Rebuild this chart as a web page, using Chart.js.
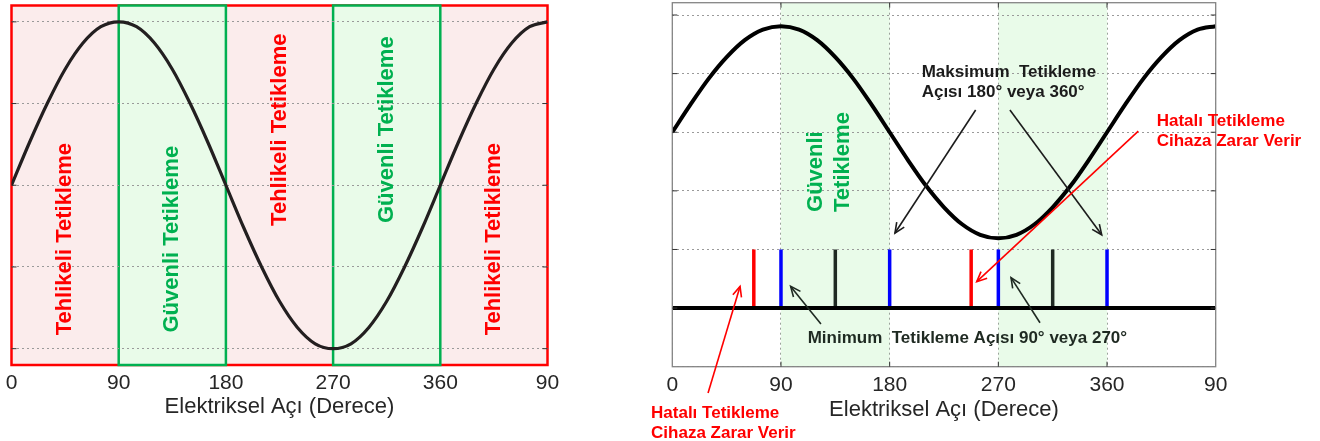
<!DOCTYPE html>
<html><head><meta charset="utf-8">
<script src="https://cdn.jsdelivr.net/npm/chart.js@4.4.1/dist/chart.umd.min.js"></script>
<style>
html,body{margin:0;padding:0;background:#fff;width:1320px;height:441px;overflow:hidden}
#wl{position:absolute;left:0;top:0;width:600px;height:441px}
#wr{position:absolute;left:620px;top:0;width:700px;height:441px}
</style></head><body>
<div id="wl"><canvas id="cl" width="600" height="441"></canvas></div>
<div id="wr"><canvas id="cr" width="700" height="441"></canvas></div>
<script>
// ---------------- data ----------------
const angleTicks = [0, 90, 180, 270, 360, 450];
const angleTickLabels = ['0', '90', '180', '270', '360', '90'];
const xTitle = 'Elektriksel Açı (Derece)';

const curveAngles = [0,15,30,45,60,75,90,105,120,135,150,165,180,195,210,225,240,255,270,285,300,315,330,345,360,375,390,405,420,435,450];
const leftWave = [0,0.26,0.5,0.71,0.87,0.97,1,0.97,0.87,0.71,0.5,0.26,0,-0.26,-0.5,-0.71,-0.87,-0.97,-1,-0.97,-0.87,-0.71,-0.5,-0.26,0,0.26,0.5,0.71,0.87,0.97,1];
const rightWave = [4,4.47,4.91,5.28,5.57,5.75,5.81,5.75,5.57,5.28,4.91,4.47,4,3.53,3.09,2.72,2.43,2.25,2.19,2.25,2.43,2.72,3.09,3.53,4,4.47,4.91,5.28,5.57,5.75,5.81];

const leftYTicks = [-1, -0.5, 0, 0.5, 1];
const rightYTicks = [0, 1, 2, 3, 4, 5, 6];

const zoneStarts = [0, 90, 180, 270, 360];
const zoneEnds   = [90, 180, 270, 360, 450];
const zoneKinds  = ['danger', 'safe', 'danger', 'safe', 'danger'];
const zoneLabels = ['Tehlikeli Tetikleme', 'Güvenli Tetikleme', 'Tehlikeli Tetikleme', 'Güvenli Tetikleme', 'Tehlikeli Tetikleme'];

const safeBandStarts = [90, 270];
const safeBandEnds   = [180, 360];
const safeBandLabel  = ['Güvenli', 'Tetikleme'];

const triggerAngles = [67.5, 90, 135, 180, 247.5, 270, 315, 360];
const triggerKinds  = ['faulty', 'limit', 'normal', 'limit', 'faulty', 'limit', 'normal', 'limit'];
const pulseLow = 1, pulseHigh = 2;

// ---------------- styles / layout ----------------
const FONT = '"Liberation Sans", Arial, Helvetica, sans-serif';
Chart.defaults.font.family = FONT;
const RED = '#ff0000', GREEN = '#00b050', PINK = '#fbecec', LGREEN = '#e9fbe9';
const DARK = '#1c1c1c', DARK2 = '#1f2a22';
const kindColor = {faulty: '#ff0000', limit: '#0000ff', normal: '#1f2a22'};
const zoneLabelY = [-0.33, -0.33, 0.34, 0.34, -0.33];

const rightNotes = [
  {lines: ['Maksimum  Tetikleme', 'Açısı 180° veya 360°'], x: 206.5, y: 5.02, color: DARK},
  {lines: ['Hatalı Tetikleme', 'Cihaza Zarar Verir'], x: 401.1, y: 4.19, color: RED},
  {lines: ['Minimum  Tetikleme Açısı 90° veya 270°'], x: 112.1, y: 0.48, color: DARK2},
  {lines: ['Hatalı Tetikleme', 'Cihaza Zarar Verir'], x: -17.6, y: -0.79, color: RED}
];
const rightArrows = [
  {from: [251.2, 4.38], to: [184.4, 2.28], color: DARK},
  {from: [279.6, 4.38], to: [355.6, 2.25], color: DARK},
  {from: [385.9, 4.02], to: [252.1, 1.45], color: RED},
  {from: [29.6, -0.45], to: [56.1, 1.37], color: RED},
  {from: [123.1, 0.73], to: [98.0, 1.37], color: DARK2},
  {from: [304.5, 0.75], to: [280.5, 1.52], color: DARK2}
];
const bandLabelPos = {x: [119, 141.3], y: 2.64};

function setTicks(list) { return s => { s.ticks = list.map(v => ({value: v})); }; }

function xScale(tickPad, titlePad, height, showGrid) {
  return {
    type: 'linear', min: angleTicks[0], max: angleTicks[angleTicks.length - 1],
    afterBuildTicks: setTicks(angleTicks),
    ticks: {callback: (v, i) => angleTickLabels[i], font: {size: 21}, color: '#262626', padding: tickPad, maxRotation: 0, autoSkip: false},
    grid: {display: showGrid, drawTicks: false, color: '#9aa39a', lineWidth: 1},
    border: {display: false, dash: [2, 3]},
    title: {display: true, text: xTitle, font: {size: 22}, color: '#262626', padding: {top: 0, bottom: titlePad}},
    afterFit: s => { s.height = height; }
  };
}

function innerTicks(ctx, a, xs, ys, sides) {
  ctx.strokeStyle = '#333'; ctx.lineWidth = 1;
  ctx.beginPath();
  ys.forEach(py => {
    if (sides.includes('l')) { ctx.moveTo(a.left, py); ctx.lineTo(a.left + 5, py); }
    if (sides.includes('r')) { ctx.moveTo(a.right, py); ctx.lineTo(a.right - 5, py); }
  });
  xs.forEach(px => {
    if (sides.includes('t')) { ctx.moveTo(px, a.top); ctx.lineTo(px, a.top + 5); }
    if (sides.includes('b')) { ctx.moveTo(px, a.bottom); ctx.lineTo(px, a.bottom - 5); }
  });
  ctx.stroke();
}

function arrow(ctx, x1, y1, x2, y2, color) {
  ctx.strokeStyle = color; ctx.lineWidth = 1.6;
  ctx.beginPath(); ctx.moveTo(x1, y1); ctx.lineTo(x2, y2); ctx.stroke();
  const ang = Math.atan2(y2 - y1, x2 - x1), L = 11, w = 0.42;
  ctx.beginPath();
  ctx.moveTo(x2 - L * Math.cos(ang - w), y2 - L * Math.sin(ang - w));
  ctx.lineTo(x2, y2);
  ctx.lineTo(x2 - L * Math.cos(ang + w), y2 - L * Math.sin(ang + w));
  ctx.stroke();
}

// ---------------- left chart ----------------
const leftPlugin = {
  id: 'leftZones',
  beforeDraw(chart) {
    const {ctx, chartArea: a, scales: {x, y}} = chart;
    ctx.save();
    ctx.fillStyle = PINK;
    ctx.fillRect(a.left, a.top, a.right - a.left, a.bottom - a.top);
    ctx.strokeStyle = RED; ctx.lineWidth = 2.5;
    ctx.strokeRect(a.left, a.top, a.right - a.left, a.bottom - a.top);
    zoneKinds.forEach((k, i) => {
      if (k !== 'safe') return;
      const x0 = x.getPixelForValue(zoneStarts[i]), x1 = x.getPixelForValue(zoneEnds[i]);
      ctx.fillStyle = LGREEN;
      ctx.fillRect(x0, a.top, x1 - x0, a.bottom - a.top);
      ctx.strokeStyle = GREEN; ctx.lineWidth = 2.5;
      ctx.strokeRect(x0, a.top, x1 - x0, a.bottom - a.top);
    });
    ctx.restore();
  },
  beforeDatasetsDraw(chart) {
    const {ctx, chartArea: a, scales: {x, y}} = chart;
    ctx.save();
    innerTicks(ctx, a, [], leftYTicks.map(v => y.getPixelForValue(v)), 'lr');
    ctx.font = 'bold 22px ' + FONT;
    ctx.textAlign = 'center'; ctx.textBaseline = 'middle';
    zoneLabels.forEach((t, i) => {
      const cx = x.getPixelForValue((zoneStarts[i] + zoneEnds[i]) / 2);
      const cy = y.getPixelForValue(zoneLabelY[i]);
      ctx.save();
      ctx.translate(cx, cy); ctx.rotate(-Math.PI / 2);
      ctx.fillStyle = zoneKinds[i] === 'safe' ? GREEN : RED;
      ctx.fillText(t, 0, 0);
      ctx.restore();
    });
    ctx.restore();
  }
};

new Chart(document.getElementById('cl'), {
  type: 'line',
  data: {datasets: [{
    data: curveAngles.map((a, i) => ({x: a, y: leftWave[i]})),
    borderColor: '#231f20', borderWidth: 3.2, pointRadius: 0, cubicInterpolationMode: 'monotone', fill: false
  }]},
  options: {
    responsive: false, animation: false, events: [],
    layout: {padding: {left: 11.5, right: 52.5, top: 5.5, bottom: 0}},
    plugins: {legend: {display: false}, tooltip: {enabled: false}},
    scales: {
      x: xScale(5.4, 20.8, 76, false),
      y: {type: 'linear', min: -1.1, max: 1.1, afterBuildTicks: setTicks(leftYTicks),
          ticks: {display: false}, grid: {color: '#9a9a9a', lineWidth: 1, drawTicks: false},
          border: {display: false, dash: [2, 3]}, afterFit: s => { s.width = 0; }}
    }
  },
  plugins: [leftPlugin]
});

// ---------------- right chart ----------------
const rightPlugin = {
  id: 'rightNotes',
  beforeDraw(chart) {
    const {ctx, chartArea: a, scales: {x}} = chart;
    ctx.save();
    ctx.fillStyle = LGREEN;
    safeBandStarts.forEach((s, i) => {
      const x0 = x.getPixelForValue(s), x1 = x.getPixelForValue(safeBandEnds[i]);
      ctx.fillRect(x0, a.top, x1 - x0, a.bottom - a.top);
    });
    ctx.restore();
  },
  beforeDatasetsDraw(chart) {
    const {ctx, scales: {x, y}} = chart;
    ctx.save();
    ctx.font = 'bold 22px ' + FONT;
    ctx.fillStyle = GREEN; ctx.textAlign = 'left'; ctx.textBaseline = 'middle';
    safeBandLabel.forEach((t, i) => {
      ctx.save();
      ctx.translate(x.getPixelForValue(bandLabelPos.x[i]), y.getPixelForValue(bandLabelPos.y));
      ctx.rotate(-Math.PI / 2);
      ctx.fillText(t, 0, 0);
      ctx.restore();
    });
    ctx.restore();
  },
  afterDatasetsDraw(chart) {
    const {ctx, chartArea: a, scales: {x, y}} = chart;
    ctx.save();
    ctx.strokeStyle = '#858585'; ctx.lineWidth = 1.3;
    ctx.strokeRect(a.left, a.top, a.right - a.left, a.bottom - a.top);
    innerTicks(ctx, a, angleTicks.slice(1, -1).map(v => x.getPixelForValue(v)),
               rightYTicks.slice(1).map(v => y.getPixelForValue(v)), 'lrtb');
    rightArrows.forEach(r => arrow(ctx, x.getPixelForValue(r.from[0]), y.getPixelForValue(r.from[1]),
                                   x.getPixelForValue(r.to[0]), y.getPixelForValue(r.to[1]), r.color));
    ctx.font = 'bold 17px ' + FONT;
    ctx.textAlign = 'left'; ctx.textBaseline = 'middle';
    rightNotes.forEach(n => {
      ctx.fillStyle = n.color;
      const px = x.getPixelForValue(n.x), py = y.getPixelForValue(n.y);
      n.lines.forEach((t, i) => ctx.fillText(t, px, py + i * 20));
    });
    ctx.restore();
  }
};

const rightSets = [
  {data: curveAngles.map((a, i) => ({x: a, y: rightWave[i]})), borderColor: '#000', borderWidth: 4,
   pointRadius: 0, cubicInterpolationMode: 'monotone', fill: false},
  {data: [{x: angleTicks[0], y: pulseLow}, {x: angleTicks[angleTicks.length - 1], y: pulseLow}],
   borderColor: '#000', borderWidth: 4, pointRadius: 0, fill: false}
];
triggerAngles.forEach((ang, i) => rightSets.push({
  data: [{x: ang, y: pulseLow}, {x: ang, y: pulseHigh}],
  borderColor: kindColor[triggerKinds[i]], borderWidth: 3.5, pointRadius: 0, fill: false, borderCapStyle: 'butt'
}));

new Chart(document.getElementById('cr'), {
  type: 'line',
  data: {datasets: rightSets},
  options: {
    responsive: false, animation: false, events: [],
    layout: {padding: {left: 52.3, right: 104.3, top: 2.7, bottom: 0}},
    plugins: {legend: {display: false}, tooltip: {enabled: false}},
    scales: {
      x: xScale(5.7, 17.8, 74.3, true),
      y: {type: 'linear', min: 0, max: 6.21, afterBuildTicks: setTicks(rightYTicks),
          ticks: {display: false}, grid: {color: '#9a9a9a', lineWidth: 1, drawTicks: false},
          border: {display: false, dash: [2, 3]}, afterFit: s => { s.width = 0; }}
    }
  },
  plugins: [rightPlugin]
});
</script>
</body></html>
